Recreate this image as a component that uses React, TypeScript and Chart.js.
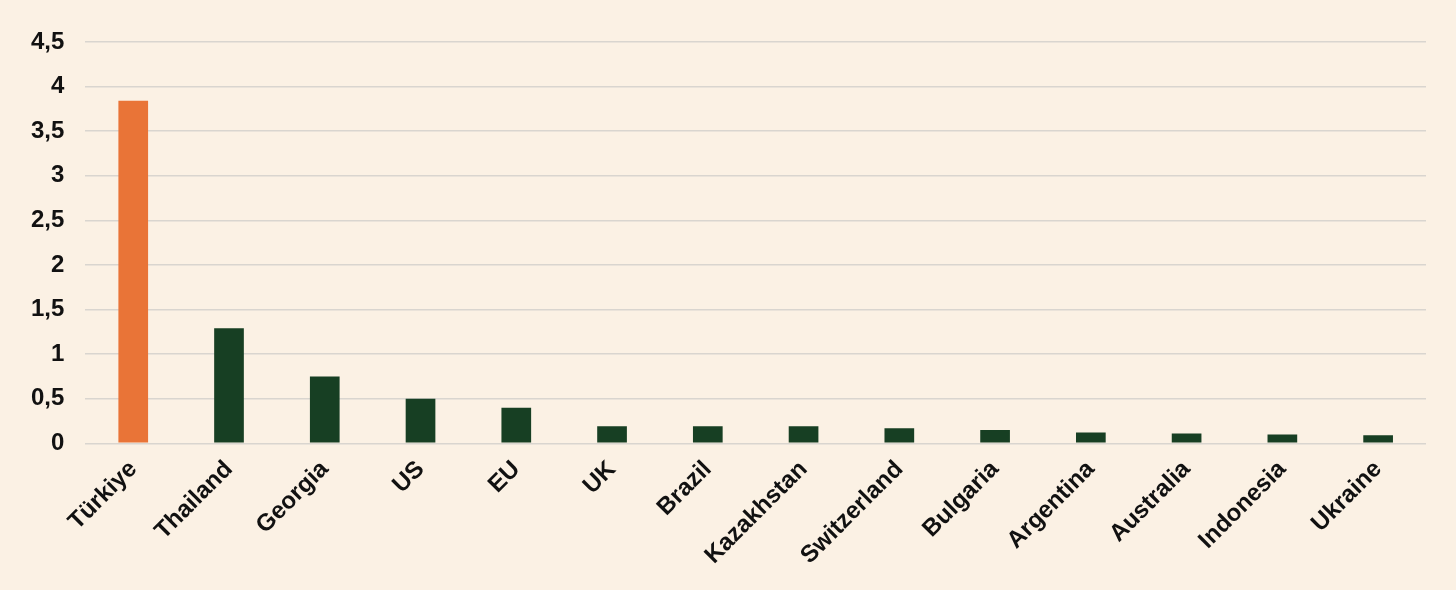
import React, { useEffect, useRef } from "react";
import { Chart, registerables } from "chart.js";

Chart.register(...registerables);

const categories = ["Türkiye", "Thailand", "Georgia", "US", "EU", "UK", "Brazil", "Kazakhstan", "Switzerland", "Bulgaria", "Argentina", "Australia", "Indonesia", "Ukraine"];
const values = [3.84, 1.29, 0.75, 0.5, 0.4, 0.19, 0.19, 0.19, 0.17, 0.15, 0.12, 0.11, 0.1, 0.09];
const highlight = ["Türkiye"];
const yTicks = [0, 0.5, 1, 1.5, 2, 2.5, 3, 3.5, 4, 4.5];

const ORANGE = "#E97437";
const GREEN = "#173F23";
const BG = "#FBF1E4";

export default function App() {
  const ref = useRef<HTMLCanvasElement>(null);
  useEffect(() => {
    document.body.style.margin = "0";
    document.body.style.background = BG;
    const ctx = ref.current!;
    const chart = new Chart(ctx, {
      type: "bar",
      data: {
        labels: categories,
        datasets: [
          {
            data: values,
            backgroundColor: categories.map((c) => (highlight.includes(c) ? ORANGE : GREEN)),
            barPercentage: 0.62,
            categoryPercentage: 0.5,
          },
        ],
      },
      options: {
        animation: false,
        responsive: false,
        maintainAspectRatio: false,
        layout: { padding: { left: 10, right: 30, top: 42, bottom: 16 } },
        plugins: { legend: { display: false }, tooltip: { enabled: false } },
        scales: {
          x: {
            grid: { display: false },
            border: { display: false },
            ticks: {
              color: "#111",
              font: { family: "Liberation Sans, Arial, sans-serif", size: 24, weight: "bold" },
              maxRotation: 45,
              minRotation: 45,
              autoSkip: false,
              padding: 4,
            },
          },
          y: {
            min: 0,
            max: 4.5,
            afterBuildTicks: (axis: any) => {
              axis.ticks = yTicks.map((v) => ({ value: v }));
            },
            grid: { color: "#D9D5CF", lineWidth: 1.5, drawTicks: false },
            border: { display: false },
            ticks: {
              color: "#111",
              font: { family: "Liberation Sans, Arial, sans-serif", size: 24, weight: "bold" },
              padding: 21,
              callback: (v: any) => String(v).replace(".", ","),
            },
          },
        },
      },
    });
    return () => chart.destroy();
  }, []);
  return (
    <div style={{ width: 1456, height: 590, background: BG }}>
      <canvas ref={ref} width={1456} height={590} style={{ display: "block" }} />
    </div>
  );
}
